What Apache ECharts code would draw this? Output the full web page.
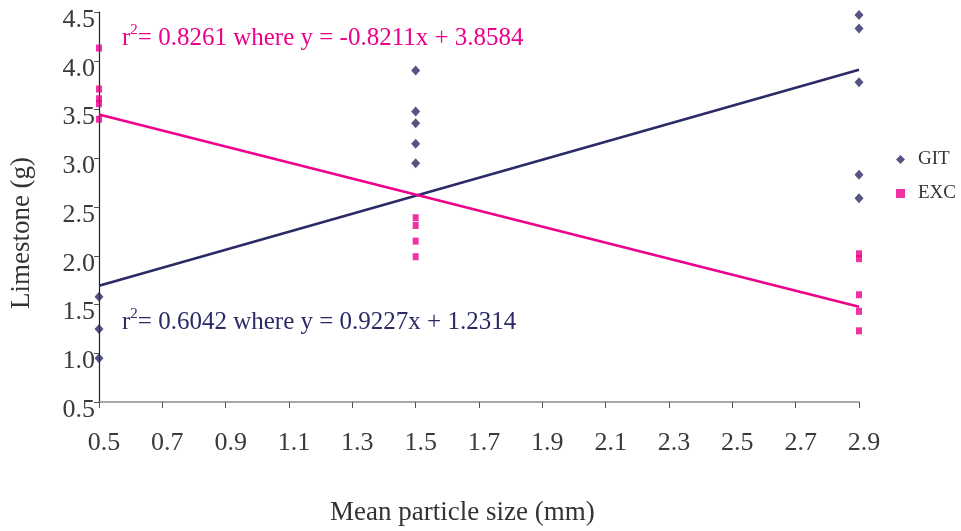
<!DOCTYPE html>
<html>
<head>
<meta charset="utf-8">
<script src="https://cdn.jsdelivr.net/npm/echarts@6/dist/echarts.min.js"></script>
<style>
  html, body { margin: 0; padding: 0; background: #fff; }
  #chart { width: 961px; height: 531px; }
</style>
</head>
<body>
<div id="chart"></div>
<script>
// Limestone mass against mean particle size, two groups with linear fits
const sizes = [0.5, 1.5, 2.9];

const gitX = [0.5, 0.5, 0.5, 1.5, 1.5, 1.5, 1.5, 1.5, 2.9, 2.9, 2.9, 2.9, 2.9];
const gitY = [1.58, 1.25, 0.95, 3.90, 3.48, 3.36, 3.15, 2.95, 4.47, 4.33, 3.78, 2.83, 2.59];

const excX = [0.5, 0.5, 0.5, 0.5, 0.5, 1.5, 1.5, 1.5, 1.5, 2.9, 2.9, 2.9, 2.9, 2.9];
const excY = [4.13, 3.71, 3.61, 3.56, 3.40, 2.39, 2.31, 2.15, 1.99, 2.02, 1.97, 1.60, 1.43, 1.23];

// Fitted lines: slope, intercept, r²
const gitFit = { slope: 0.9227, intercept: 1.2314, r2: '0.6042' };
const excFit = { slope: -0.8211, intercept: 3.8584, r2: '0.8261' };

const xTicks = { min: 0.5, max: 2.9, step: 0.2 };
const yTicks = { min: 0.5, max: 4.5, step: 0.5 };

const navy = '#2a2a66';
const pink = '#ec008c';
const serif = '"Liberation Serif", "Times New Roman", serif';

const pairs = (xs, ys) => xs.map((x, i) => [x, ys[i]]);
const fitLine = f => [sizes[0], sizes[sizes.length - 1]].map(x => [x, f.slope * x + f.intercept]);
const signed = v => (v < 0 ? '- ' + Math.abs(v) : '+ ' + v);
const eqText = f => '{t|r}{s|2}{t|= ' + f.r2 + ' where y = ' + f.slope + 'x ' + signed(f.intercept) + '}';
const eqRich = color => ({
  t: { fontFamily: serif, fontSize: 25, color: color, lineHeight: 28, verticalAlign: 'bottom' },
  s: { fontFamily: serif, fontSize: 15, color: color, lineHeight: 28, verticalAlign: 'top' }
});

const chart = echarts.init(document.getElementById('chart'), null, { renderer: 'canvas' });

chart.setOption({
  backgroundColor: '#fff',
  animation: false,
  grid: { left: 99, right: 102, top: 12, bottom: 129, containLabel: false },
  xAxis: {
    type: 'value',
    min: xTicks.min, max: xTicks.max, interval: xTicks.step,
    axisLine: { show: true, onZero: false, lineStyle: { color: '#8a8a8a', width: 1.5 } },
    axisTick: { show: true, inside: false, length: 6, lineStyle: { color: '#555' } },
    axisLabel: {
      margin: 28, fontFamily: serif, fontSize: 26, color: '#3a3a3a',
      padding: [0, 0, 0, 10],
      formatter: v => v.toFixed(1)
    },
    splitLine: { show: false }
  },
  yAxis: {
    type: 'value',
    min: yTicks.min, max: yTicks.max, interval: yTicks.step,
    axisLine: { show: true, onZero: false, lineStyle: { color: '#222', width: 1.2 } },
    axisTick: { show: true, inside: false, length: 5, lineStyle: { color: '#555' } },
    axisLabel: {
      margin: 4, fontFamily: serif, fontSize: 26, color: '#3a3a3a',
      verticalAlign: 'top', lineHeight: 16,
      formatter: v => v.toFixed(1)
    },
    splitLine: { show: false }
  },
  legend: {
    orient: 'vertical',
    left: 891, top: 145,
    itemGap: 15,
    itemWidth: 9, itemHeight: 9,
    textStyle: { fontFamily: serif, fontSize: 19, color: '#333', padding: [0, 0, 0, 8] },
    data: [
      { name: 'GIT', icon: 'diamond', itemStyle: { color: navy } },
      { name: 'EXC', icon: 'rect', itemStyle: { color: pink } }
    ]
  },
  graphic: [
    {
      type: 'text', left: 330, top: 499,
      style: { text: 'Mean particle size (mm)', fontFamily: serif, fontSize: 27, fill: '#333' }
    },
    {
      type: 'text', x: 22, y: 233, rotation: Math.PI / 2,
      style: {
        text: 'Limestone (g)', fontFamily: serif, fontSize: 27, fill: '#333',
        align: 'center', verticalAlign: 'middle'
      }
    },
    {
      type: 'text', left: 122, top: 23,
      style: { text: eqText(excFit), fill: pink, rich: eqRich(pink) }
    },
    {
      type: 'text', left: 122, top: 307,
      style: { text: eqText(gitFit), fill: navy, rich: eqRich(navy) }
    }
  ],
  series: [
    {
      name: 'GIT', type: 'scatter', symbol: 'diamond', symbolSize: [9, 10],
      itemStyle: { color: navy }, data: pairs(gitX, gitY), z: 3
    },
    {
      name: 'EXC', type: 'scatter', symbol: 'rect', symbolSize: [6, 7],
      itemStyle: { color: pink }, data: pairs(excX, excY), z: 3
    },
    {
      name: 'GIT fit', type: 'line', data: fitLine(gitFit), showSymbol: false, symbol: 'none',
      lineStyle: { color: navy, width: 2.5 }, silent: true, z: 2
    },
    {
      name: 'EXC fit', type: 'line', data: fitLine(excFit), showSymbol: false, symbol: 'none',
      lineStyle: { color: pink, width: 2.5 }, silent: true, z: 2
    }
  ]
});
</script>
</body>
</html>
